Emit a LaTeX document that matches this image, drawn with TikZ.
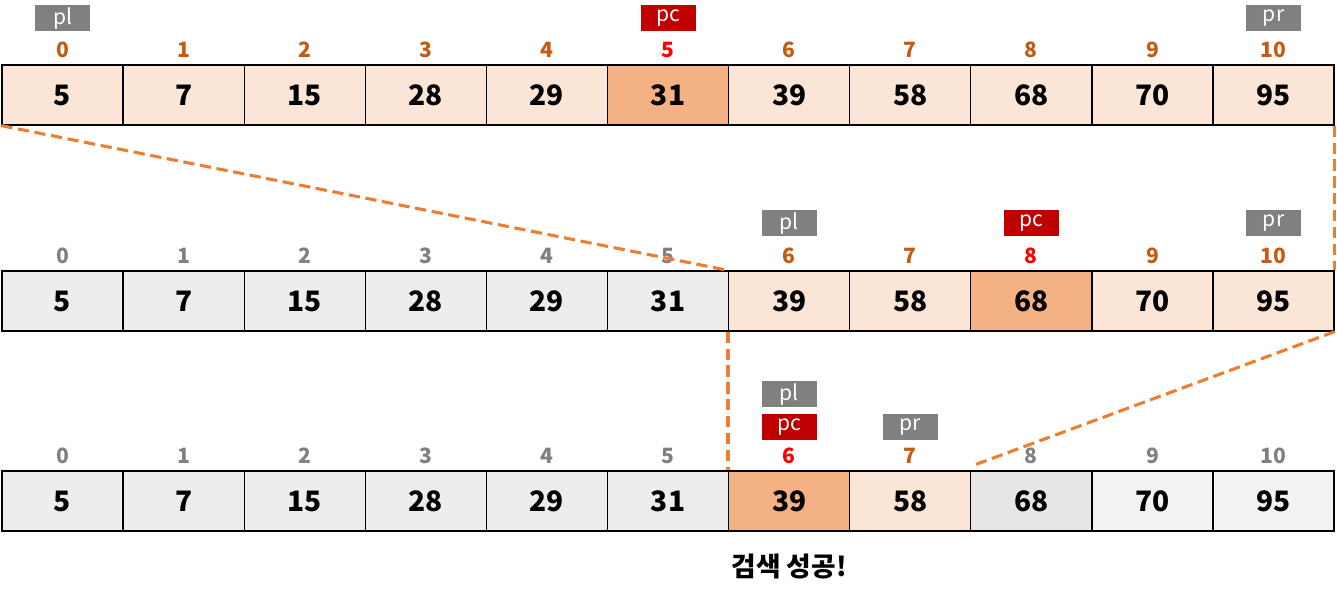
\documentclass[tikz,border=0pt]{standalone}
\usepackage{fontspec}
\setmainfont{Noto Sans CJK KR}
\usepackage{tikz}
\usetikzlibrary{positioning}
\definecolor{lite}{HTML}{FBE5D6}
\definecolor{dark}{HTML}{F4B183}
\definecolor{gry}{HTML}{EDEDED}
\definecolor{gryb}{HTML}{E6E6E6}
\definecolor{gryc}{HTML}{F2F2F2}
\definecolor{idxor}{HTML}{C55A11}
\definecolor{idxred}{HTML}{FF0000}
\definecolor{idxgr}{HTML}{808080}
\definecolor{tagred}{HTML}{C00000}
\definecolor{guide}{HTML}{ED7D31}

\begin{document}
\begin{tikzpicture}[x=0.025cm, y=-0.025cm,
    cell/.style={draw, line width=0.9pt, minimum width=3.0275cm, minimum height=1.5cm, inner sep=0pt, font=\bfseries\fontsize{20}{20}\selectfont},
    idx/.style={inner sep=0pt, anchor=base, font=\bfseries\fontsize{15}{15}\selectfont},
    tag/.style={fill=#1, text=white, minimum width=1.375cm, minimum height=0.65cm, inner sep=0pt, font=\fontsize{15}{15}\selectfont},
    guideline/.style={guide, line width=2.2pt, dash pattern=on 8pt off 4pt}]
    \useasboundingbox (0,0) rectangle (1337,596);

    % first pass
    \foreach \v/\f/\c [count=\i from 0] in {5/lite/idxor, 7/lite/idxor, 15/lite/idxor, 28/lite/idxor, 29/lite/idxor, 31/dark/idxred, 39/lite/idxor, 58/lite/idxor, 68/lite/idxor, 70/lite/idxor, 95/lite/idxor} {
        \node[cell, fill=\f] (a1-\i) at ({62.55+121.1*\i}, 95) {\v};
        \node[idx, text=\c] (i1-\i) at ([yshift=0.17cm]a1-\i.north) {\i};
    }
    \node[tag=idxgr] (pl1) at ([yshift=1.15cm]a1-0.north) {pl};
    \node[tag=tagred] (pc1) at ([yshift=1.15cm]a1-5.north) {pc};
    \node[tag=idxgr] (pr1) at ([yshift=1.15cm]a1-10.north) {pr};

    % second pass
    \foreach \v/\f/\c [count=\i from 0] in {5/gry/idxgr, 7/gry/idxgr, 15/gry/idxgr, 28/gry/idxgr, 29/gry/idxgr, 31/gry/idxgr, 39/lite/idxor, 58/lite/idxor, 68/dark/idxred, 70/lite/idxor, 95/lite/idxor} {
        \node[cell, fill=\f] (a2-\i) at ({62.55+121.1*\i}, 301) {\v};
        \node[idx, text=\c] (i2-\i) at ([yshift=0.17cm]a2-\i.north) {\i};
    }
    \node[tag=idxgr] (pl2) at ([yshift=1.175cm]a2-6.north) {pl};
    \node[tag=tagred] (pc2) at ([yshift=1.175cm]a2-8.north) {pc};
    \node[tag=idxgr] (pr2) at ([yshift=1.175cm]a2-10.north) {pr};

    % third pass
    \foreach \v/\f/\c [count=\i from 0] in {5/gry/idxgr, 7/gry/idxgr, 15/gry/idxgr, 28/gry/idxgr, 29/gry/idxgr, 31/gry/idxgr, 39/dark/idxred, 58/lite/idxor, 68/gryb/idxgr, 70/gryc/idxgr, 95/gryc/idxgr} {
        \node[cell, fill=\f] (a3-\i) at ({62.55+121.1*\i}, 501) {\v};
        \node[idx, text=\c] (i3-\i) at ([yshift=0.17cm]a3-\i.north) {\i};
    }
    \node[tag=tagred] (pc3) at ([yshift=1.075cm]a3-6.north) {pc};
    \node[tag=idxgr] (pl3) at ([yshift=0.825cm]pc3.center) {pl};
    \node[tag=idxgr] (pr3) at ([yshift=1.075cm]a3-7.north) {pr};

    \node[font=\bfseries\fontsize{19}{19}\selectfont] (done) at ([yshift=-0.875cm]a3-6.south) {검색 성공!};

    % narrowing lines
    \coordinate (e3) at ([xshift=0.15cm, yshift=0.15cm]a3-8.north west);
    \draw[guideline] (a1-0.south west) -- (a2-6.north west);
    \draw[guideline] (a1-10.south east) -- (a2-10.north east);
    \draw[guideline] (a2-6.south west) -- (a3-6.north west);
    \draw[guideline] (a2-10.south east) -- (e3);
\end{tikzpicture}
\end{document}
